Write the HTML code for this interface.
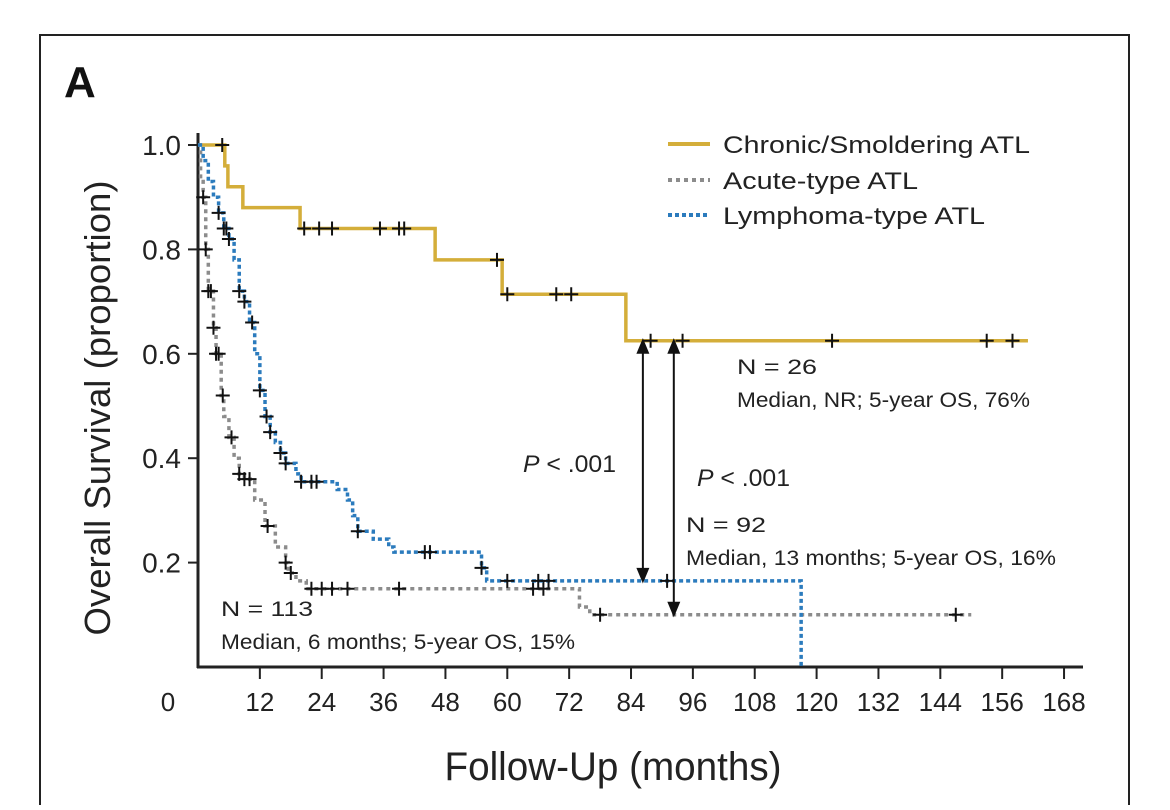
<!DOCTYPE html>
<html><head><meta charset="utf-8"><style>
body{margin:0;background:#fff;width:1170px;height:805px;overflow:hidden;font-family:"Liberation Sans",sans-serif}
</style></head><body>
<svg id="chart" width="1170" height="805" xmlns="http://www.w3.org/2000/svg" font-family="Liberation Sans, sans-serif">
<rect x="40" y="35" width="1089" height="800" fill="none" stroke="#222" stroke-width="2"/>
<text x="64" y="97" font-size="44" font-weight="bold" fill="#111">A</text>
<g id="axes"></g><g id="series"></g>
<g>
<line x1="668" y1="144" x2="710" y2="144" stroke="#d4ae3a" stroke-width="4"/>
<text x="723" y="153" font-size="24" fill="#222" textLength="307" lengthAdjust="spacingAndGlyphs">Chronic/Smoldering ATL</text>
<line x1="668" y1="180" x2="710" y2="180" stroke="#8c8c8c" stroke-width="4" stroke-dasharray="4,4"/>
<text x="723" y="189" font-size="24" fill="#222" textLength="195" lengthAdjust="spacingAndGlyphs">Acute-type ATL</text>
<line x1="668" y1="215" x2="710" y2="215" stroke="#2b7bbd" stroke-width="4" stroke-dasharray="4,3"/>
<text x="723" y="224" font-size="24" fill="#222" textLength="262" lengthAdjust="spacingAndGlyphs">Lymphoma-type ATL</text>
</g>
<g fill="#222" font-size="21">
<text x="737" y="374" textLength="80" lengthAdjust="spacingAndGlyphs">N = 26</text>
<text x="737" y="407" textLength="293" lengthAdjust="spacingAndGlyphs">Median, NR; 5-year OS, 76%</text>
<text x="523" y="472" font-size="24" textLength="93" lengthAdjust="spacingAndGlyphs"><tspan font-style="italic">P</tspan> &lt; .001</text>
<text x="697" y="486" font-size="24" textLength="93" lengthAdjust="spacingAndGlyphs"><tspan font-style="italic">P</tspan> &lt; .001</text>
<text x="686" y="532" textLength="80" lengthAdjust="spacingAndGlyphs">N = 92</text>
<text x="686" y="565" textLength="370" lengthAdjust="spacingAndGlyphs">Median, 13 months; 5-year OS, 16%</text>
<text x="221" y="616" textLength="92" lengthAdjust="spacingAndGlyphs">N = 113</text>
<text x="221" y="649" textLength="354" lengthAdjust="spacingAndGlyphs">Median, 6 months; 5-year OS, 15%</text>
</g>
<text transform="translate(110,408) rotate(-90)" text-anchor="middle" font-size="36" fill="#222" textLength="455" lengthAdjust="spacingAndGlyphs">Overall Survival (proportion)</text>
<text x="613" y="780" text-anchor="middle" font-size="40" fill="#222" textLength="337" lengthAdjust="spacingAndGlyphs">Follow-Up (months)</text>
</svg>
<script>
const xTicks=[0,12,24,36,48,60,72,84,96,108,120,132,144,156,168];
const yTicks=[0.2,0.4,0.6,0.8,1.0];
const chronicT=[0,5.2,5.8,8.7,19.8,46,59,83,161];
const chronicS=[1,0.96,0.92,0.88,0.84,0.78,0.714,0.625,0.625];
const chronicCT=[4.7,20.6,23.5,26,35.3,39,40,58,60,69.5,72.4,87.8,94,123,153,158];
const acuteT=[0,0.5,1,1.5,2,3,3.5,4.5,5,6,7,8,9,11,13,15,17,17.5,19,21,73,74,76,150];
const acuteS=[1,0.93,0.9,0.8,0.72,0.65,0.6,0.52,0.48,0.44,0.4,0.37,0.36,0.32,0.27,0.23,0.2,0.18,0.165,0.15,0.15,0.115,0.1,0.1];
const acuteCT=[1,1.5,2,2.5,3,3.5,4,4.8,6.5,8,9,10,13.5,17,18,22,24,26,29,39,65,67,78,147];
const lymphT=[0,1,2,3,4,5,6,7,8,9,10,11,12,13,14,15,16,17,19,20,25,27,29,30,31,34,37,38,53,55,56,117,117];
const lymphS=[1,0.97,0.93,0.9,0.87,0.84,0.82,0.78,0.72,0.7,0.66,0.6,0.53,0.48,0.45,0.43,0.41,0.39,0.37,0.355,0.355,0.34,0.32,0.29,0.26,0.245,0.23,0.22,0.22,0.19,0.165,0.165,0];
const lymphCT=[4,5,5.5,6,8,9,10.5,12,13.3,14,16,17,20,22,23,31,44,45,55,60,66,68,91];
const X=t=>198+t*5.155, Y=v=>667-522*v;
const NS="http://www.w3.org/2000/svg";
function mk(tag,attrs,parent){const e=document.createElementNS(NS,tag);for(const k in attrs)e.setAttribute(k,attrs[k]);parent.appendChild(e);return e;}
const ax=document.getElementById('axes'), sg=document.getElementById('series');
const yl=mk('line',{x1:198,y1:133,x2:198,y2:668,stroke:'#222','stroke-width':3},ax);


const xl=mk('line',{x1:197,y1:667,x2:1083,y2:667,stroke:'#222','stroke-width':3},ax);


xTicks.forEach(t=>{
  if(t>0){const tk=mk('line',{x1:X(t),y1:667,x2:X(t),y2:679,stroke:'#222','stroke-width':2},ax);
  
  }
  const tx=mk('text',{x:t===0?168:X(t),y:711,'text-anchor':'middle','font-size':26,fill:'#222'},ax);
  tx.textContent=t;
  
  
});
yTicks.forEach(v=>{
  const tk=mk('line',{x1:188,y1:Y(v),x2:198,y2:Y(v),stroke:'#222','stroke-width':2},ax);
  
  
  const tx=mk('text',{x:181,y:Y(v)+10,'text-anchor':'end','font-size':28,fill:'#222'},ax);
  tx.textContent=v.toFixed(1);
  
  
});
function stepS(T,S,t){let s=S[0];for(let i=0;i<T.length;i++){if(T[i]<=t)s=S[i];}return s;}
function curve(T,S,CT,color,dash,name){
  let d='M'+X(T[0])+','+Y(S[0]);
  for(let i=1;i<T.length;i++){d+=' H'+X(T[i])+' V'+Y(S[i]);}
  const p=mk('path',{d:d,fill:'none',stroke:color,'stroke-width':3.5},sg);
  if(dash)p.setAttribute('stroke-dasharray',dash);
  
  
  CT.forEach(t=>{
    const x=X(t),y=Y(stepS(T,S,t));
    const c=mk('path',{d:`M${x-7},${y} H${x+7} M${x},${y-7} V${y+7}`,stroke:'#111','stroke-width':2},sg);
    
    
  });
}
curve(chronicT,chronicS,chronicCT,'#d4ae3a',null,'chronic');
curve(acuteT,acuteS,acuteCT,'#8c8c8c','4,4','acute');
curve(lymphT,lymphS,lymphCT,'#2b7bbd','4,3','lymphoma');
function arrow(t,v1,v2,name){
  const x=X(t),y1=Y(v1),y2=Y(v2);
  const g=mk('g',{stroke:'#111','stroke-width':2,fill:'#111'},sg);
  
  
  mk('line',{x1:x,y1:y1+6,x2:x,y2:y2-6},g);
  mk('path',{d:`M${x-5},${y1+12} L${x},${y1} L${x+5},${y1+12}Z`},g);
  mk('path',{d:`M${x-5},${y2-12} L${x},${y2} L${x+5},${y2-12}Z`},g);
}
arrow(86.3,0.625,0.165,'comparison-arrow-lymphoma');
arrow(92.3,0.625,0.1,'comparison-arrow-acute');
</script>
</body></html>
